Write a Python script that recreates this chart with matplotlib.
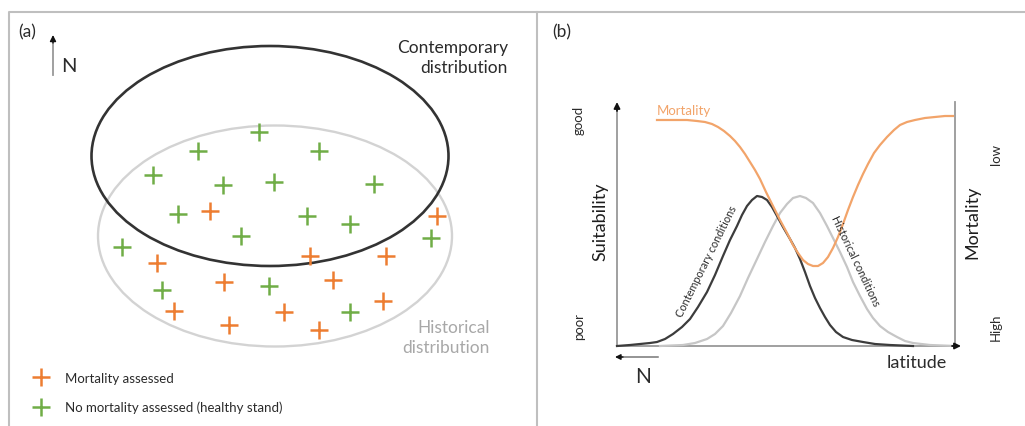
import matplotlib
matplotlib.use("Agg")
from matplotlib import pyplot as plt
from matplotlib.patches import Ellipse

plt.rcParams['font.family'] = ['Lato', 'DejaVu Sans']

green_x = [259, 198, 319, 153, 223, 274, 374, 178, 307, 350, 241, 431, 122, 162, 269, 350]
green_y = [133, 152, 152, 176, 186, 183, 185, 215, 217, 225, 237, 239, 248, 291, 287, 313]
orange_x = [210, 437, 310, 386, 157, 224, 333, 174, 383, 284, 229, 319]
orange_y = [212, 217, 257, 257, 264, 283, 281, 312, 302, 313, 326, 331]

# distributions: centre x, centre y, width, height
contemp_ell = (270, 157, 357, 220)
hist_ell = (275, 237, 354, 221)

# ---- panel (b): curves ----
contemp_x = [617, 630, 640, 650, 657, 665, 673, 682, 690, 698, 707, 715, 723,
             730, 737, 742, 747, 752, 757, 762, 767, 772, 777, 783, 790, 795,
             800, 805, 810, 815, 820, 825, 830, 836, 843, 852, 863, 875, 890, 913]
contemp_y = [347, 346, 345, 344, 343, 340, 335, 328, 320, 308, 293, 276, 257,
             241, 227, 216, 207, 201, 197, 198, 201, 208, 217, 228, 240, 249,
             260, 273, 287, 299, 309, 318, 326, 333, 338, 341, 343, 345, 346, 347]

hist_x = [660, 683, 695, 707, 715, 723, 731, 740, 748, 757, 765, 773, 780,
          787, 793, 800, 806, 813, 820, 827, 833, 840, 847, 853, 860, 867,
          873, 880, 888, 897, 905, 913, 930, 955]
hist_y = [347, 346, 344, 340, 335, 327, 314, 297, 279, 260, 243, 227, 214,
          205, 199, 197, 199, 204, 214, 227, 239, 253, 268, 283, 297, 310,
          319, 327, 333, 338, 342, 344, 346, 347]

mort_x = [657, 667, 677, 687, 697, 705, 712, 718, 724, 730, 735, 740, 745,
          750, 755, 760, 766, 773, 780, 787, 793, 798, 803, 808, 813, 818,
          823, 828, 833, 838, 843, 848, 853, 858, 863, 868, 874, 880, 887,
          894, 900, 907, 915, 925, 935, 945, 953]
mort_y = [121, 121, 121, 121, 122, 123, 125, 128, 132, 137, 142, 148, 155,
          163, 171, 180, 193, 207, 221, 234, 246, 254, 261, 265, 267, 267,
          264, 258, 249, 238, 225, 211, 198, 186, 175, 165, 154, 146, 138,
          131, 126, 123, 121, 119, 118, 117, 117]

legend_labels = ['Mortality assessed', 'No mortality assessed (healthy stand)']

c_orange = '#ED7D31'
c_green = '#70AD47'
c_mort = '#F2A46A'
c_frame = '#BFBFBF'
c_text = '#2B2B2B'


def arrow(ax, tip, tail, color, scale=9, lw=1.3):
    ax.annotate('', xy=tip, xytext=tail,
                arrowprops=dict(arrowstyle='-|>', color=color, lw=lw,
                                mutation_scale=scale, shrinkA=0, shrinkB=0))


def main():
    fig = plt.figure(figsize=(10.25, 4.27), dpi=100)
    ax = fig.add_axes([0, 0, 1, 1])
    ax.set_xlim(0, 1025)
    ax.set_ylim(427, 0)
    ax.axis('off')

    # panel frames
    ax.plot([9, 9, 1025], [427, 13, 13], color=c_frame, lw=1.5)
    ax.plot([537, 537], [13, 427], color=c_frame, lw=1.5)

    # ---------------- (a) ----------------
    ax.text(18, 32, '(a)', fontsize=12.5, color=c_text, va='center')
    ax.plot([53, 53], [76, 42], color='#999999', lw=1.3)
    arrow(ax, (53, 36), (53, 44), '#111111', scale=9, lw=1.0)
    ax.text(61, 66, 'N', fontsize=14.5, color=c_text, va='center')

    cx, cy, w, h = hist_ell
    ax.add_patch(Ellipse((cx, cy), w, h, fill=False, ec='#D3D3D3', lw=1.7))
    cx, cy, w, h = contemp_ell
    ax.add_patch(Ellipse((cx, cy), w, h, fill=False, ec='#333333', lw=1.9))

    ax.plot(green_x, green_y, ls='none', marker='+', ms=13, mew=1.8, color=c_green)
    ax.plot(orange_x, orange_y, ls='none', marker='+', ms=13, mew=1.8, color=c_orange)

    ax.text(508, 58, 'Contemporary\ndistribution', fontsize=12.5, color=c_text,
            ha='right', va='center', linespacing=1.3)
    ax.text(490, 338, 'Historical\ndistribution', fontsize=12.5, color='#A8A8A8',
            ha='right', va='center', linespacing=1.3)

    # legend
    ax.plot([41], [378], ls='none', marker='+', ms=13, mew=1.8, color=c_orange)
    ax.plot([41], [408], ls='none', marker='+', ms=13, mew=1.8, color=c_green)
    ax.text(65, 379, legend_labels[0], fontsize=9.5, color=c_text, va='center')
    ax.text(65, 408, legend_labels[1], fontsize=9.5, color=c_text, va='center')

    # ---------------- (b) ----------------
    ax.text(552, 32, '(b)', fontsize=12.5, color=c_text, va='center')

    # axes: grey lines with dark arrow heads
    ax.plot([617, 617], [347, 110], color='#999999', lw=1.3)
    arrow(ax, (617, 103), (617, 112), '#111111')
    ax.plot([617, 952], [347, 347], color='#999999', lw=1.3)
    arrow(ax, (961, 347), (952, 347), '#111111')
    ax.plot([955, 955], [103, 345], color='#999999', lw=1.3)
    ax.plot([620, 658], [358, 358], color='#777777', lw=1.1)
    arrow(ax, (615, 358), (623, 358), '#111111', scale=8, lw=1.0)
    ax.text(643, 377, 'N', fontsize=15, color=c_text, ha='center', va='center')

    ax.plot(hist_x, hist_y, color='#C6C6C6', lw=1.6, solid_joinstyle='round')
    ax.plot(contemp_x, contemp_y, color='#3C3C3C', lw=1.6, solid_joinstyle='round')
    ax.plot(mort_x, mort_y, color=c_mort, lw=1.6, solid_joinstyle='round')

    ax.text(657, 111, 'Mortality', fontsize=9.5, color=c_mort, va='center')
    ax.text(706, 262, 'Contemporary conditions', fontsize=7.8, color=c_text,
            rotation=63.5, ha='center', va='center', rotation_mode='anchor')
    ax.text(855, 261, 'Historical conditions', fontsize=7.8, color=c_text,
            rotation=-64.5, ha='center', va='center', rotation_mode='anchor')

    ax.text(600, 222, 'Suitability', fontsize=13, color='#1E1E1E', rotation=90,
            ha='center', va='center')
    ax.text(972, 222, 'Mortality', fontsize=13, color='#1E1E1E', rotation=90,
            ha='center', va='center')
    ax.text(579, 120, 'good', fontsize=9.5, color=c_text, rotation=90,
            ha='center', va='center')
    ax.text(579, 327, 'poor', fontsize=9.5, color=c_text, rotation=90,
            ha='center', va='center')
    ax.text(996, 155, 'low', fontsize=9.5, color=c_text, rotation=90,
            ha='center', va='center')
    ax.text(996, 327, 'High', fontsize=9.5, color=c_text, rotation=90,
            ha='center', va='center')
    ax.text(917, 363, 'latitude', fontsize=13, color=c_text,
            ha='center', va='center')

    fig.savefig('out.png', dpi=100)


if __name__ == "__main__":
    main()
